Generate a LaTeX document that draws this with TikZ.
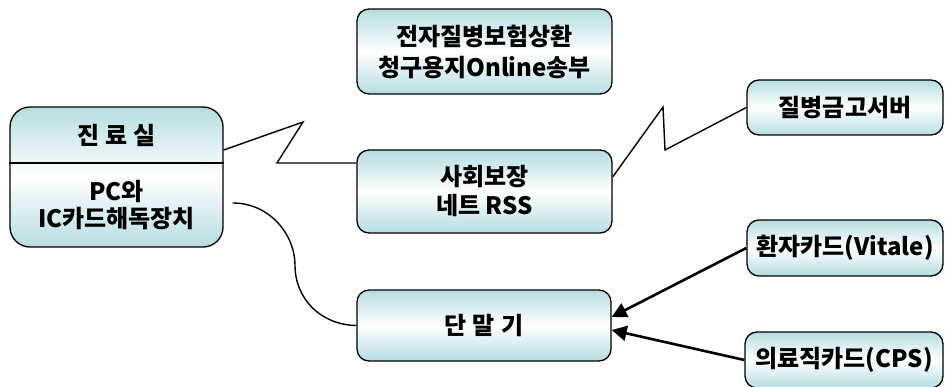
\documentclass[tikz,border=0pt]{standalone}
\usepackage{fontspec}
\setmainfont{Noto Sans CJK KR}
\usetikzlibrary{arrows.meta,calc}
\definecolor{teal1}{RGB}{182,221,225}
\begin{document}
\begin{tikzpicture}[x=1pt,y=-1pt,
  box/.style={draw=black,line width=1.3pt,rounded corners=12pt,
    top color=teal1,bottom color=teal1,middle color=white,
    align=center,inner sep=0pt,font=\fontsize{24}{31}\selectfont\bfseries},
  conn/.style={draw=black,line width=1.4pt},
  arr/.style={draw=black,line width=2.6pt,-{Triangle[length=15pt,width=15pt]}}]
\useasboundingbox (0,0) rectangle (945,387);
% boxes
\node[box,rounded corners=20pt,minimum width=213pt,minimum height=140pt] (jin) at (116.5,177) {};
\draw[line width=1.3pt] (jin.west |- 0,163) coordinate (dl) -- (jin.east |- dl) coordinate (dr);
\node[font=\fontsize{24}{29}\selectfont\bfseries] (jint) at (116.5,135) {진\hspace{6pt}료\hspace{6pt}실};
\node[font=\fontsize{24}{27}\selectfont\bfseries,align=center] (jinb) at (116.5,205) {PC와\\IC카드해독장치};
\node[box,minimum width=255pt,minimum height=85pt] (title) at (484.5,51.5) {전자질병보험상환\\청구용지Online송부};
\node[box,minimum width=255pt,minimum height=83pt,font=\fontsize{24}{29}\selectfont\bfseries] (rss) at (484.5,191.5) {사회보장\\네트 RSS};
\node[box,minimum width=196pt,minimum height=55pt] (server) at (845,107.5) {질병금고서버};
\node[box,minimum width=254pt,minimum height=71pt] (danmal) at (484,325.5) {단\hspace{6pt}말\hspace{6pt}기};
\node[box,minimum width=196pt,minimum height=56pt] (vitale) at (845,248) {환자카드(Vitale)};
\node[box,minimum width=198pt,minimum height=56pt] (cps) at (844,360) {의료직카드(CPS)};
% connectors
\draw[conn] ([yshift=27pt]jin.east) -- (303,122) -- (277,163) -- ([yshift=28.5pt]rss.west);
\draw[conn] ([yshift=14.5pt]rss.east) -- (663,107) -- (665,150) -- (server.west);
\draw[conn] ([xshift=9pt,yshift=-26pt]jin.east) .. controls (270,203) and (295,235) .. (295,265)
  .. controls (295,300) and (322,325) .. (danmal.west);
\draw[arr] (vitale.west) -- ([yshift=8.5pt]danmal.east);
\draw[arr] (cps.west) -- ([yshift=-4.5pt]danmal.east);
\end{tikzpicture}
\end{document}
